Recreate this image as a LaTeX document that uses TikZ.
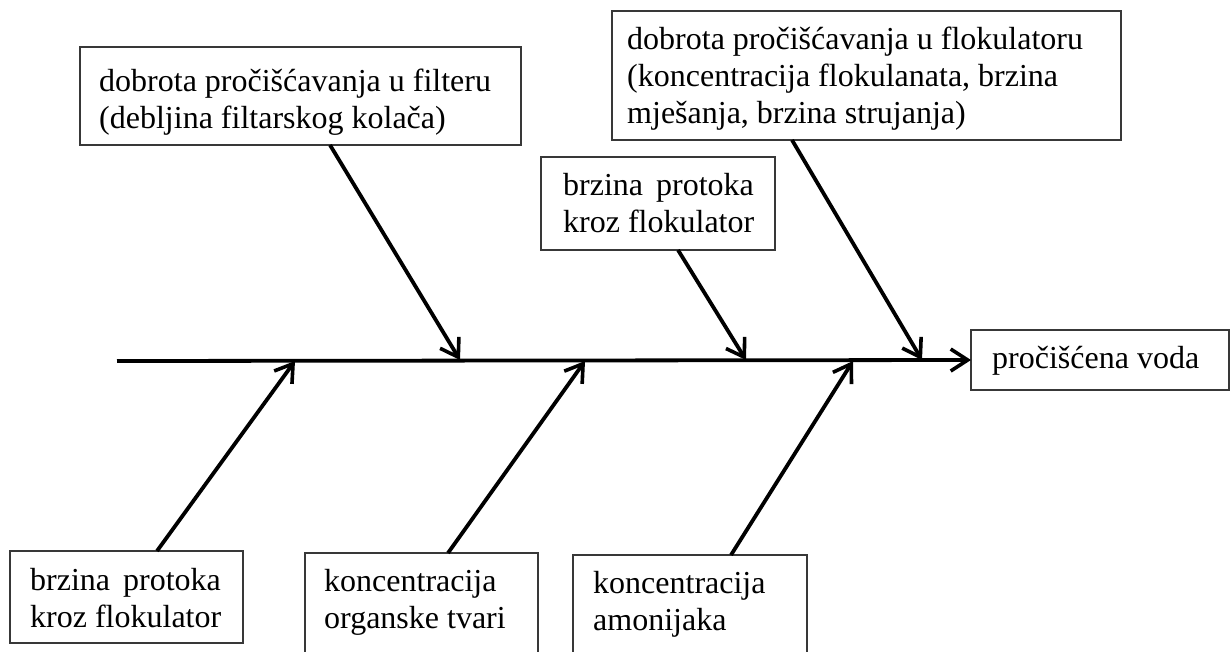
\documentclass[tikz,border=0pt]{standalone}
\usepackage{fontspec}
\setmainfont{Liberation Serif}
\usetikzlibrary{arrows.meta,calc}
\tikzset{
  box/.style={draw=black!78, line width=1.6pt, inner sep=0pt, outer sep=0pt, anchor=north west, fill=none},
  txt/.style={inner sep=0pt, anchor=base west, font=\fontsize{32pt}{37pt}\selectfont},
  bone/.style={line width=3.8pt, -{Straight Barb[length=17pt,width=22pt,line width=3.6pt]}},
}
\begin{document}
\begin{tikzpicture}[x=1pt,y=-1pt]
\path[use as bounding box, clip] (0,0) rectangle (1231,651);
\fill[white] (0,0) rectangle (1231,651);
% boxes
\node[box, minimum width=441pt, minimum height=98pt] (b1) at (80,47) {};
\node[box, minimum width=509pt, minimum height=129pt] (b2) at (612,11) {};
\node[box, minimum width=234pt, minimum height=93pt] (b3) at (541,157) {};
\node[box, minimum width=233pt, minimum height=92pt] (b4) at (10,551) {};
\node[box, minimum width=233pt, minimum height=120pt] (b5) at (305,553) {};
\node[box, minimum width=234pt, minimum height=120pt] (b6) at (573,555) {};
\node[box, minimum width=258pt, minimum height=60pt] (b7) at (971,330) {};
% texts
\node[txt] (t1a) at (99,91) {dobrota pročišćavanja u filteru};
\node[txt] (t1b) at (99,128) {(debljina filtarskog kolača)};
\node[txt] (t2a) at (627,49) {dobrota pročišćavanja u flokulatoru};
\node[txt] (t2b) at (627,86) {(koncentracija flokulanata, brzina};
\node[txt] (t2c) at (627,123) {mješanja, brzina strujanja)};
\node[txt] (t3a) at (563,195) {brzina\hspace{13pt}protoka};
\node[txt] (t3b) at (563,232) {kroz flokulator};
\node[txt] (t4a) at (30,590) {brzina\hspace{13pt}protoka};
\node[txt] (t4b) at (30,627) {kroz flokulator};
\node[txt] (t5a) at (324,591) {koncentracija};
\node[txt] (t5b) at (324,628) {organske tvari};
\node[txt] (t6a) at (593,593) {koncentracija};
\node[txt] (t6b) at (593,630) {amonijaka};
\node[txt] (t7) at (992,368) {pročišćena voda};
% spine
\coordinate (s0) at (117,361);
\draw[bone] (s0) -- (b7.west);
% bone tips
\coordinate (p1) at (460,360);
\coordinate (p3) at (746,360);
\coordinate (p2) at (922,360);
\coordinate (p4) at (295,361);
\coordinate (p5) at (585,361);
\coordinate (p6) at (853,361);
\draw[bone] ($(b1.south west)+(250,0)$) -- (p1);
\draw[bone] ($(b3.south west)+(137,0)$) -- (p3);
\draw[bone] ($(b2.south west)+(180,0)$) -- (p2);
\draw[bone] ($(b4.north west)+(147,0)$) -- (p4);
\draw[bone] ($(b5.north west)+(143,0)$) -- (p5);
\draw[bone] ($(b6.north west)+(158,0)$) -- (p6);
\end{tikzpicture}
\end{document}
